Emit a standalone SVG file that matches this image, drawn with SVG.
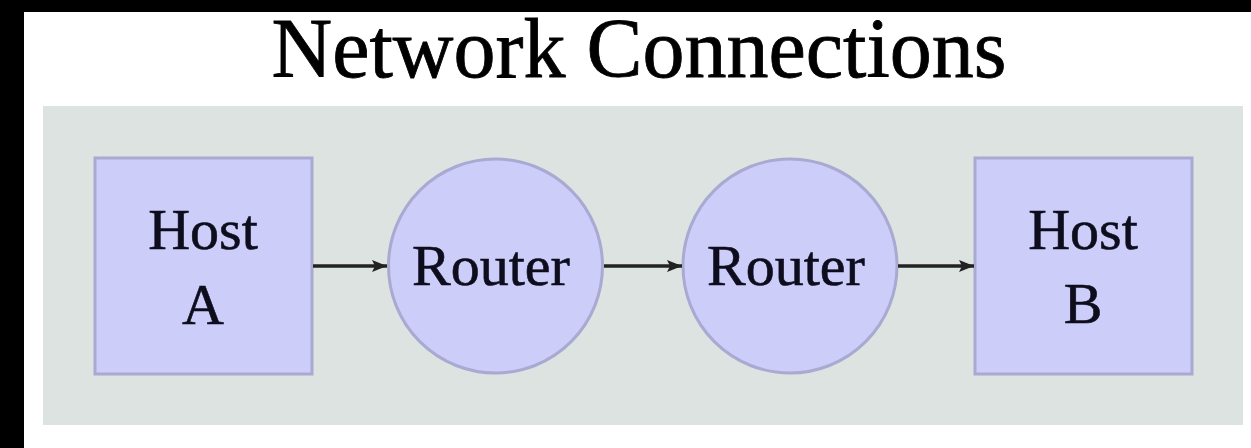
<svg xmlns="http://www.w3.org/2000/svg" width="1251" height="448" viewBox="0 0 1251 448">
  <style>
    .node { fill: #cdcdfa; stroke: #a9a9d2; stroke-width: 3; }
    .lbl { font-family: "Liberation Serif", "Times New Roman", serif; font-size: 58px; fill: #0d0d1e; stroke: #0d0d1e; stroke-width: 0.6; text-anchor: middle; }
    .title { font-family: "Liberation Serif", "Times New Roman", serif; font-size: 84px; fill: #000; stroke: #000; stroke-width: 0.8; text-anchor: middle; }
    .edge { stroke: #222; stroke-width: 3.5; fill: none; marker-end: url(#arrow); }
  </style>
  <defs>
    <marker id="arrow" markerWidth="16" markerHeight="16" refX="15" refY="8" orient="auto" markerUnits="userSpaceOnUse">
      <path d="M0,2 L15,8 L0,14 L3,8 Z" fill="#222"/>
    </marker>
  </defs>
  <rect x="0" y="0" width="1251" height="448" fill="#000"/>
  <rect x="24" y="12" width="1227" height="436" fill="#fff"/>
  <text class="title" x="639" y="77">Network Connections</text>
  <rect x="43" y="106" width="1200" height="319" fill="#dde3e1"/>

  <g id="hostA">
    <rect class="node" x="95" y="158" width="217" height="216"/>
    <text class="lbl" x="203" y="249">Host</text>
    <text class="lbl" x="203" y="324">A</text>
  </g>
  <g id="router1">
    <circle class="node" cx="495.5" cy="266" r="107"/>
    <text class="lbl" x="491" y="285">Router</text>
  </g>
  <g id="router2">
    <circle class="node" cx="790" cy="266" r="107"/>
    <text class="lbl" x="786" y="285">Router</text>
  </g>
  <g id="hostB">
    <rect class="node" x="975" y="158" width="217" height="216"/>
    <text class="lbl" x="1083" y="249">Host</text>
    <text class="lbl" x="1083" y="323">B</text>
  </g>

  <g id="connectors">
    <line class="edge" x1="313" y1="266" x2="387" y2="266"/>
    <line class="edge" x1="604" y1="266" x2="682" y2="266"/>
    <line class="edge" x1="898" y1="266" x2="974" y2="266"/>
  </g>
</svg>
